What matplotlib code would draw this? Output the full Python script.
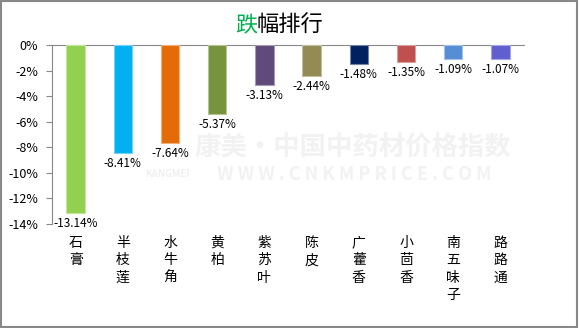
import matplotlib
matplotlib.use("Agg")
import matplotlib.pyplot as plt
from matplotlib.colors import to_rgb
from matplotlib.patches import Rectangle
import matplotlib.transforms as mtransforms
from matplotlib.ticker import FuncFormatter

plt.rcParams['font.family'] = ['Noto Sans CJK SC', 'DejaVu Sans']

names = ['石膏', '半枝莲', '水牛角', '黄柏', '紫苏叶', '陈皮', '广藿香', '小茴香', '南五味子', '路路通']
changes = [-13.14, -8.41, -7.64, -5.37, -3.13, -2.44, -1.48, -1.35, -1.09, -1.07]
colors = ['#92D050', '#00B0F0', '#E36C09', '#77933C', '#604A7B',
          '#948A54', '#002060', '#C0504D', '#558ED5', '#5F5FCF']
yticks = [0, -2, -4, -6, -8, -10, -12, -14]


def lighter(c, f=0.45):
    r, g, b = to_rgb(c)
    return (r + (1 - r) * f, g + (1 - g) * f, b + (1 - b) * f)


def pct(x, pos):
    return '%d%%' % x


fig = plt.figure(figsize=(5.79, 3.28), dpi=100)
ax = fig.add_axes([52 / 579, 1 - 224 / 328, (524 - 52) / 579, (224 - 45) / 328])

# faint watermark behind the bars
fig.text(353 / 579, 1 - 148 / 328, '康美·中国中药材价格指数', ha='center', va='center',
         fontsize=19, fontweight='bold', color='#F2F2F2', zorder=0)
fig.text(167 / 579, 1 - 174 / 328, 'KANGMEI', ha='center', va='center',
         fontsize=7, fontweight='bold', color='#F0F0F0', zorder=0)
fig.text(354 / 579, 1 - 174 / 328, 'W W W . C N K M P R I C E . C O M', ha='center', va='center',
         fontsize=13, fontweight='bold', color='#F2F2F2', zorder=0)
ax.patch.set_alpha(0)

x = range(len(names))
ax.bar(x, changes, width=0.39, color=colors,
       edgecolor=[lighter(c) for c in colors], linewidth=0.8, zorder=3)

for i, v in enumerate(changes):
    ax.annotate('%.2f%%' % v, (i, v), xytext=(0, -3), textcoords='offset points',
                ha='center', va='top', fontsize=8.5, color='black')

trans = mtransforms.blended_transform_factory(ax.transData, fig.transFigure)
for i, n in enumerate(names):
    ax.text(i, 1 - 236 / 328, '\n'.join(n), transform=trans, ha='center', va='top',
            fontsize=10, linespacing=1.3)

ax.set_xlim(-0.5, 9.5)
ax.set_ylim(-14, 0)
ax.set_yticks(yticks)
ax.yaxis.set_major_formatter(FuncFormatter(pct))
ax.tick_params(axis='y', length=4, color='#888888', labelsize=9, pad=6)
ax.set_xticks([])
for s in ['right', 'bottom']:
    ax.spines[s].set_visible(False)
ax.spines['left'].set_color('#888888')
ax.spines['top'].set_color('#888888')

# title, first char in green
fig.text(257 / 579, 1 - 25 / 328, '跌', ha='right', va='center', fontsize=16, color='#00B050')
fig.text(257 / 579, 1 - 25 / 328, '幅排行', ha='left', va='center', fontsize=16, color='black')

fig.patches.append(Rectangle((0.002, 0.003), 0.995, 0.994, transform=fig.transFigure,
                             fill=False, edgecolor='#888888', linewidth=1.5))

fig.savefig('out.png', dpi=100)
